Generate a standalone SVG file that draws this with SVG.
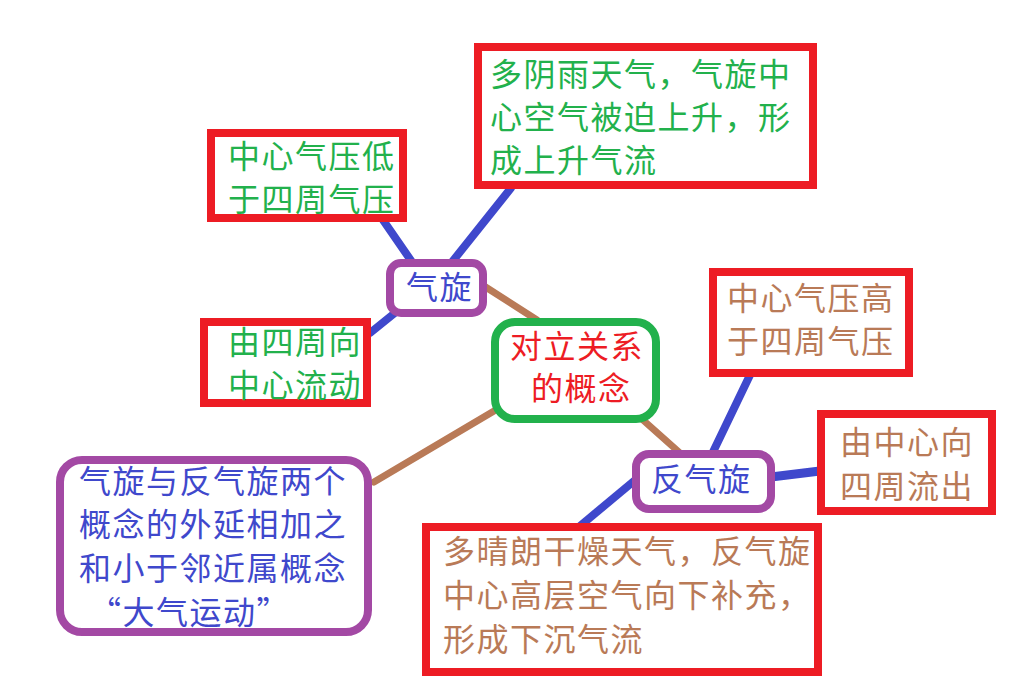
<svg xmlns="http://www.w3.org/2000/svg" width="1032" height="691" viewBox="0 0 1032 691">
<style>
.box{fill:#ffffff;stroke:#ed1c24;stroke-width:8}
.pbox{fill:#ffffff;stroke:#a349a4;stroke-width:8}
.gbox{fill:#ffffff;stroke:#22b14c;stroke-width:8}
text{font-family:"Noto Sans CJK SC","Noto Sans CJK JP",sans-serif;font-size:32px;letter-spacing:1.5px}
.tg{fill:#22b14c}
.tb{fill:#3f48cc}
.tr{fill:#ed1c24}
.tn{fill:#b97a57}
.cb{stroke:#3f48cc;stroke-width:8;stroke-linecap:round;fill:none}
.cn{stroke:#b97a57;stroke-width:7;stroke-linecap:round;fill:none}
</style>
<rect width="1032" height="691" fill="#ffffff"/>
<g id="connectors">
<line class="cb" x1="383" y1="220" x2="412" y2="262"/>
<line class="cb" x1="511" y1="188" x2="452" y2="262"/>
<line class="cb" x1="396" y1="312" x2="370" y2="333"/>
<line class="cn" x1="484" y1="286" x2="537" y2="320"/>
<line class="cn" x1="494" y1="411" x2="374" y2="482"/>
<line class="cn" x1="643" y1="420" x2="680" y2="453"/>
<line class="cb" x1="750" y1="375" x2="713" y2="452"/>
<line class="cb" x1="771" y1="477" x2="820" y2="471" style="stroke-width:9"/>
<line class="cb" x1="634" y1="481" x2="580" y2="526"/>
</g>
<g id="n_top">
<rect class="box" x="478" y="47" width="335" height="138"/>
<text class="tg" x="490" y="86">多阴雨天气，气旋中</text>
<text class="tg" x="490" y="129">心空气被迫上升，形</text>
<text class="tg" x="490" y="172">成上升气流</text>
</g>
<g id="n_low">
<rect class="box" x="211" y="133" width="192" height="85"/>
<text class="tg" x="228" y="168">中心气压低</text>
<text class="tg" x="228" y="211">于四周气压</text>
</g>
<g id="n_in">
<rect class="box" x="204" y="322" width="163" height="81"/>
<text class="tg" x="228" y="354">由四周向</text>
<text class="tg" x="228" y="397">中心流动</text>
</g>
<g id="n_cyclone">
<rect class="pbox" x="390" y="263" width="93" height="50" rx="11"/>
<text class="tb" x="406" y="299">气旋</text>
</g>
<g id="n_center">
<rect class="gbox" x="495" y="322" width="161" height="97" rx="20"/>
<text class="tr" x="510" y="358">对立关系</text>
<text class="tr" x="531" y="400">的概念</text>
</g>
<g id="n_high">
<rect class="box" x="713" y="272" width="196" height="101"/>
<text class="tn" x="727" y="310">中心气压高</text>
<text class="tn" x="727" y="353">于四周气压</text>
</g>
<g id="n_out">
<rect class="box" x="821" y="414" width="171" height="97"/>
<text class="tn" x="840" y="454">由中心向</text>
<text class="tn" x="840" y="498">四周流出</text>
</g>
<g id="n_anticyclone">
<rect class="pbox" x="636" y="454" width="135" height="55" rx="13"/>
<text class="tb" x="651" y="491">反气旋</text>
</g>
<g id="n_bottom">
<rect class="box" x="426" y="527" width="392" height="145"/>
<text class="tn" x="443" y="563">多晴朗干燥天气，反气旋</text>
<text class="tn" x="443" y="607">中心高层空气向下补充，</text>
<text class="tn" x="443" y="651">形成下沉气流</text>
</g>
<g id="n_note">
<rect class="pbox" x="60" y="460" width="308" height="172" rx="22"/>
<text class="tb" x="79" y="493">气旋与反气旋两个</text>
<text class="tb" x="79" y="536">概念的外延相加之</text>
<text class="tb" x="79" y="580">和小于邻近属概念</text>
<text class="tb" x="89" y="624">“大气运动”</text>
</g>
</svg>
